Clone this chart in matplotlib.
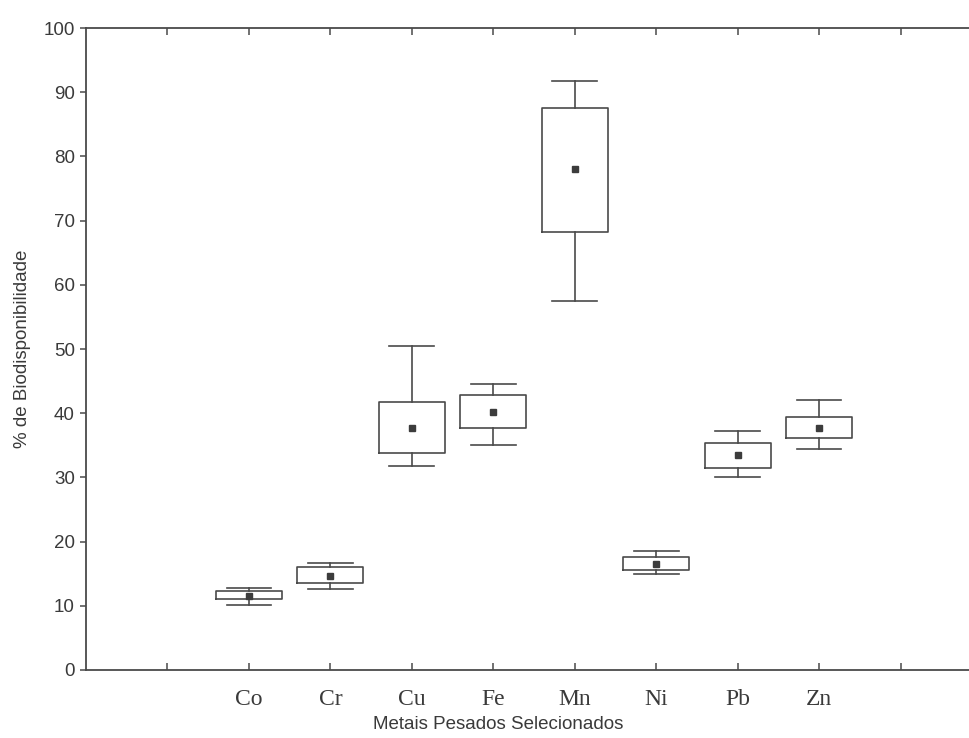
import matplotlib
matplotlib.use("Agg")
import matplotlib.pyplot as plt

# Heavy metals and their bioavailability statistics (%)
metals = ["Co", "Cr", "Cu", "Fe", "Mn", "Ni", "Pb", "Zn"]
whisker_low = [10.2, 12.6, 31.8, 35.1, 57.5, 15.0, 30.0, 34.5]
box_low = [11.0, 13.6, 33.8, 37.7, 68.2, 15.5, 31.5, 36.1]
box_high = [12.3, 16.0, 41.8, 42.8, 87.5, 17.6, 35.4, 39.4]
whisker_high = [12.8, 16.7, 50.4, 44.6, 91.7, 18.5, 37.3, 42.0]
means = [11.6, 14.6, 37.7, 40.2, 78.0, 16.5, 33.5, 37.7]

positions = list(range(2, 2 + len(metals)))

stats = []
for lab, wl, q1, q3, wh, m in zip(metals, whisker_low, box_low, box_high,
                                  whisker_high, means):
    stats.append(dict(label=lab, whislo=wl, q1=q1, med=m, q3=q3,
                      whishi=wh, mean=m, fliers=[]))

line_col = "#4a4a4a"
text_col = "#3a3a3a"

fig = plt.figure(figsize=(9.69, 7.38), dpi=100)
ax = fig.add_axes([86 / 969, 1 - 670 / 738, 896 / 969, 642 / 738])

ax.bxp(stats, positions=positions, widths=0.81, capwidths=0.55,
       showmeans=True, showfliers=False, patch_artist=False,
       boxprops=dict(color=line_col, linewidth=1.2),
       whiskerprops=dict(color=line_col, linewidth=1.2),
       capprops=dict(color=line_col, linewidth=1.2),
       medianprops=dict(linewidth=0, alpha=0),
       meanprops=dict(marker="s", markersize=5, markerfacecolor="#3c3c3c",
                      markeredgecolor="#3c3c3c"))

ax.set_xlim(0, 11)
ax.set_ylim(0, 100)
ax.set_yticks(range(0, 101, 10))

# category ticks at every slot, labels only on the metals
ax.set_xticks(range(1, 11))
ax.set_xticklabels([""] + metals + [""], family="Liberation Serif",
                   fontsize=17, color=text_col)
ax.tick_params(axis="x", direction="in", length=5, width=1.1,
               color=line_col, top=True, pad=14)
ax.tick_params(axis="y", direction="out", length=4, width=1.1,
               color=line_col, labelsize=13.5, labelcolor=text_col, pad=4)
for lab in ax.get_yticklabels():
    lab.set_family("Liberation Sans")

for side in ["left", "bottom", "top"]:
    ax.spines[side].set_color(line_col)
    ax.spines[side].set_linewidth(1.3)
ax.spines["right"].set_visible(False)

ax.set_ylabel("% de Biodisponibilidade", family="Liberation Sans",
              fontsize=13.5, color=text_col, labelpad=9)
ax.set_xlabel("Metais Pesados Selecionados", family="Liberation Sans",
              fontsize=13.5, color=text_col, labelpad=2)
ax.xaxis.set_label_coords((498 - 86) / 896, -0.071)

fig.savefig("out.png", dpi=100)
